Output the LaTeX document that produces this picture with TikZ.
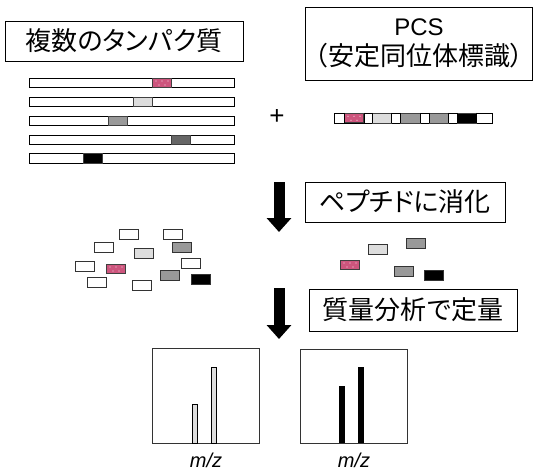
\documentclass[tikz,border=0pt]{standalone}
\usepackage{fontspec}
\setmainfont{Liberation Sans}
\newfontfamily\jp[RawFeature=+palt]{Noto Sans CJK JP}
\usetikzlibrary{arrows.meta}
\definecolor{pinkc}{RGB}{205,85,125}
\definecolor{lg}{RGB}{221,221,221}
\definecolor{mg}{RGB}{153,153,153}
\definecolor{dg}{RGB}{102,102,102}
\newcommand\pinkrect[2]{%
  \fill[pinkc,draw=black!75,line width=0.7pt] (#1,#2) rectangle ++(19,9.5);
  \foreach \dx/\dy in {4/3,10/3,16/3,7/7,13/7}
    \fill[white!80!pinkc] (#1+\dx,#2+\dy) circle (0.6);
}
\begin{document}
\begin{tikzpicture}[x=1pt,y=-1pt,
  labelbox/.style={draw=black, line width=0.9pt, inner sep=0pt, align=center,
    font=\jp\fontsize{26}{30}\selectfont},
  barbox/.style={draw=black, line width=0.8pt, fill=white},
  segbox/.style={draw=black!75, line width=0.7pt},
  pepbox/.style={draw=black!80, line width=1pt},
  bigarrow/.style={line width=11pt, -{Triangle[width=24pt,length=14pt]}},
  specbox/.style={draw=black!80, line width=0.9pt},
  mzlabel/.style={font=\fontsize{20}{20}\selectfont\itshape}
]
\useasboundingbox (0,0) rectangle (534,470);

% title boxes
\node[labelbox, minimum width=238pt, minimum height=40pt] (prot) at (124,41) {複数のタンパク質};
\node[labelbox, minimum width=227pt, minimum height=73pt] (pcs) at (419,43.5)
  {\fontspec{Liberation Sans}\fontsize{24}{30}\selectfont PCS\\（安定同位体標識）};
\node[labelbox, minimum width=200pt, minimum height=40pt] (dig) at (405,202) {ペプチドに消化};
\node[labelbox, minimum width=208pt, minimum height=42pt] (ms) at (413,310) {質量分析で定量};

% protein bars
\foreach \y in {78,97.3,116,135,153.7}
  \draw[barbox] (29,\y) rectangle (234,\y+9.5);
\pinkrect{152}{78}
\draw[segbox,fill=lg] (133,97.3) rectangle ++(19.5,9.5);
\draw[segbox,fill=mg] (108,116) rectangle ++(19.5,9.5);
\draw[segbox,fill=dg] (171,135) rectangle ++(19.5,9.5);
\draw[segbox,fill=black] (83,153.7) rectangle ++(19.5,9.5);

% plus
\node[font=\fontsize{26}{26}\selectfont] (plus) at (277,117) {+};

% PCS bar
\draw[barbox] (334,113) rectangle (492,123);
\pinkrect{344}{113.3}
\draw[segbox,fill=lg] (372,113) rectangle (391,123);
\draw[segbox,fill=mg] (400,113) rectangle (420,123);
\draw[segbox,fill=mg] (429,113) rectangle (448,123);
\draw[segbox,fill=black] (457,113) rectangle (476,123);
\foreach \x in {344,364,372,391,400,420,429,448,457,476}
  \draw[black, line width=0.7pt] (\x,113) -- (\x,123);

% arrows
\coordinate (a1s) at (279,182);
\coordinate (a1e) at (279,232);
\coordinate (a2s) at (279,288);
\coordinate (a2e) at (279,339);
\draw[bigarrow] (a1s) -- (a1e);
\draw[bigarrow] (a2s) -- (a2e);

% peptides left
\foreach \x/\y/\c in {119/229/white,163/229/white,94/242/white,172/242/mg,134/248/lg,
  75/261/white,181/258/white,160/270/mg,191/274/black,87/277/white,132/280/white}
  \draw[pepbox,fill=\c] (\x,\y) rectangle ++(19,10);
\pinkrect{106}{264}

% peptides right
\draw[pepbox,fill=lg] (368,244) rectangle ++(19,10);
\draw[pepbox,fill=mg] (406,238) rectangle ++(19,10);
\pinkrect{340}{260}
\draw[pepbox,fill=mg] (394,266) rectangle ++(19,10);
\draw[pepbox,fill=black] (424,270) rectangle ++(19,10);

% spectra
\draw[specbox] (152,348) rectangle (259,443);
\draw[black, line width=0.8pt, fill=lg] (192,443) rectangle (197,404);
\draw[black, line width=0.8pt, fill=lg] (211,443) rectangle (216,367);
\draw[specbox] (300,349) rectangle (407,443);
\fill[black] (339,443) rectangle (345,386);
\fill[black] (358,443) rectangle (364,367);

\node[mzlabel] (mz1) at (206,460) {m/z};
\node[mzlabel] (mz2) at (354,460) {m/z};
\end{tikzpicture}
\end{document}
